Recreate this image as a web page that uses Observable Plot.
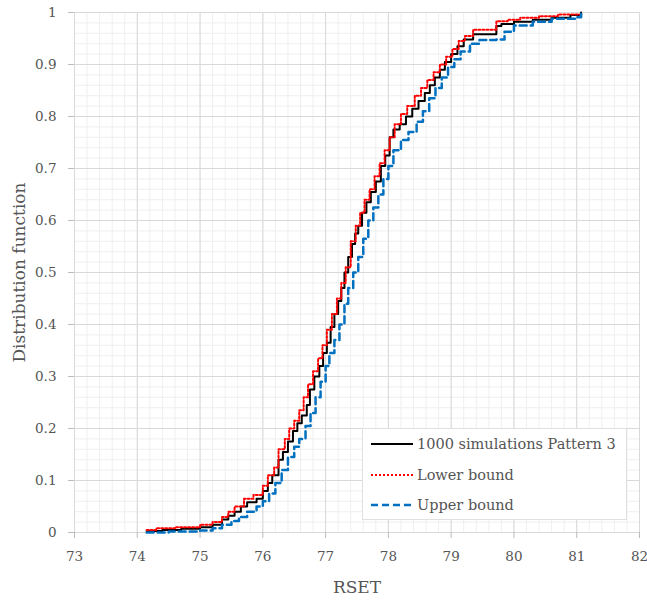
<!DOCTYPE html>
<html>
<head>
<meta charset="utf-8">
<script src="https://cdn.jsdelivr.net/npm/d3@7"></script>
<script src="https://cdn.jsdelivr.net/npm/@observablehq/plot@0.6"></script>
<style>
  html, body { margin: 0; padding: 0; background: #fff; }
  #wrap { position: relative; width: 647px; height: 604px; }
  #legend { position: absolute; left: 362px; top: 428px; width: 263px; height: 90px;
    background: #fff; border: 1px solid #e0e0e0; font-family: "DejaVu Serif", serif;
    font-size: 14.5px; color: #555; }
  .row { position: absolute; left: 8px; height: 20px; display: flex; align-items: center; }
  .row svg { margin-right: 4px; }
</style>
</head>
<body>
<div id="wrap"></div>
<script>
const xTicks = [73, 74, 75, 76, 77, 78, 79, 80, 81, 82];
const yTicks = [0, 0.1, 0.2, 0.3, 0.4, 0.5, 0.6, 0.7, 0.8, 0.9, 1];

const simX = [74.15, 74.4, 74.7, 75.0, 75.2, 75.35, 75.45, 75.55, 75.65, 75.75, 75.9, 76.0, 76.08, 76.15, 76.25, 76.32, 76.4, 76.48, 76.55, 76.62, 76.7, 76.75, 76.82, 76.9, 76.96, 77.02, 77.08, 77.14, 77.2, 77.25, 77.3, 77.36, 77.42, 77.47, 77.52, 77.58, 77.65, 77.72, 77.8, 77.88, 77.95, 78.02, 78.08, 78.18, 78.28, 78.38, 78.48, 78.58, 78.66, 78.74, 78.82, 78.9, 79.0, 79.1, 79.2, 79.35, 79.72, 79.8, 80.0, 80.3, 80.6, 80.9, 81.07];
const simY = [0.003, 0.005, 0.007, 0.01, 0.015, 0.025, 0.032, 0.04, 0.05, 0.058, 0.065, 0.08, 0.095, 0.11, 0.14, 0.155, 0.175, 0.195, 0.21, 0.225, 0.245, 0.275, 0.3, 0.32, 0.345, 0.365, 0.395, 0.42, 0.445, 0.47, 0.5, 0.53, 0.555, 0.575, 0.59, 0.615, 0.635, 0.655, 0.675, 0.705, 0.725, 0.76, 0.775, 0.785, 0.8, 0.815, 0.83, 0.845, 0.86, 0.875, 0.89, 0.905, 0.92, 0.935, 0.948, 0.958, 0.974, 0.978, 0.982, 0.986, 0.99, 0.995, 1.0];

const lowX = [74.15, 74.3, 74.6, 75.0, 75.2, 75.35, 75.45, 75.55, 75.7, 75.85, 76.0, 76.08, 76.18, 76.25, 76.35, 76.42, 76.5, 76.58, 76.65, 76.72, 76.8, 76.88, 76.95, 77.02, 77.1, 77.18, 77.25, 77.32, 77.4, 77.48, 77.55, 77.62, 77.7, 77.78, 77.86, 77.94, 78.02, 78.1, 78.2, 78.3, 78.42, 78.52, 78.62, 78.72, 78.82, 78.92, 79.02, 79.12, 79.22, 79.35, 79.72, 79.9, 80.1, 80.4, 80.7, 81.07];
const lowY = [0.005, 0.008, 0.01, 0.015, 0.02, 0.03, 0.04, 0.05, 0.065, 0.072, 0.09, 0.11, 0.125, 0.16, 0.18, 0.2, 0.215, 0.235, 0.26, 0.285, 0.31, 0.335, 0.36, 0.39, 0.42, 0.45, 0.48, 0.51, 0.56, 0.59, 0.615, 0.64, 0.66, 0.685, 0.71, 0.735, 0.76, 0.785, 0.805, 0.82, 0.84, 0.855, 0.87, 0.885, 0.9, 0.915, 0.93, 0.945, 0.955, 0.967, 0.983, 0.986, 0.99, 0.993, 0.996, 1.0];

const upX = [74.15, 74.5, 75.0, 75.2, 75.35, 75.5, 75.62, 75.75, 75.9, 76.0, 76.1, 76.2, 76.3, 76.4, 76.5, 76.58, 76.68, 76.76, 76.84, 76.92, 77.0, 77.06, 77.14, 77.22, 77.3, 77.36, 77.44, 77.52, 77.6, 77.68, 77.76, 77.84, 77.92, 78.0, 78.08, 78.2, 78.32, 78.45, 78.55, 78.65, 78.75, 78.85, 78.95, 79.05, 79.15, 79.3, 79.45, 79.72, 79.85, 80.0, 80.3, 80.6, 81.0, 81.07];
const upY = [0.0, 0.002, 0.004, 0.008, 0.015, 0.022, 0.03, 0.04, 0.05, 0.06, 0.075, 0.095, 0.12, 0.145, 0.165, 0.18, 0.205, 0.23, 0.26, 0.29, 0.32, 0.345, 0.37, 0.4, 0.44, 0.47, 0.5, 0.53, 0.565, 0.6, 0.625, 0.65, 0.68, 0.705, 0.735, 0.755, 0.77, 0.79, 0.81, 0.835, 0.855, 0.875, 0.895, 0.91, 0.925, 0.94, 0.947, 0.948, 0.963, 0.975, 0.982, 0.988, 0.991, 1.0];

const toPts = (xs, ys) => xs.map((x, i) => ({x, y: ys[i]}));
const sim = toPts(simX, simY), low = toPts(lowX, lowY), up = toPts(upX, upY);

const minorX = d3.range(73, 82.001, 0.2).map(v => +v.toFixed(2));
const minorY = d3.range(0, 1.0001, 0.02).map(v => +v.toFixed(3));
const fmtY = d => d === 0 ? "0" : d === 1 ? "1" : d.toFixed(1);

const font = "DejaVu Serif, serif";
const chart = Plot.plot({
  width: 647, height: 604,
  marginLeft: 74, marginRight: 8, marginTop: 12, marginBottom: 72,
  style: {fontFamily: font, fontSize: "13px", color: "#555", background: "#fff"},
  x: {domain: [73, 82]},
  y: {domain: [0, 1]},
  marks: [
    Plot.ruleX(minorX, {stroke: "#efefef", strokeWidth: 1}),
    Plot.ruleY(minorY, {stroke: "#efefef", strokeWidth: 1}),
    Plot.ruleX(xTicks, {stroke: "#d9d9d9", strokeWidth: 1}),
    Plot.ruleY(yTicks, {stroke: "#d9d9d9", strokeWidth: 1}),
    Plot.frame({stroke: "#d9d9d9"}),
    Plot.axisX({ticks: xTicks, tickFormat: d => String(d), tickSize: 6, tickPadding: 13,
      stroke: "#bbb", fontSize: 13.5, label: "RSET", labelAnchor: "center", labelArrow: "none", labelOffset: 60}),
    Plot.axisY({ticks: yTicks, tickFormat: fmtY, tickSize: 6, tickPadding: 12,
      stroke: "#bbb", fontSize: 13.5, label: "Distribution function", labelAnchor: "center", labelArrow: "none", labelOffset: 62}),
    Plot.line(sim, {x: "x", y: "y", curve: "step-after", stroke: "#000", strokeWidth: 2}),
    Plot.line(low, {x: "x", y: "y", curve: "step-after", stroke: "#ff0000", strokeWidth: 2, strokeDasharray: "2,2"}),
    Plot.line(up, {x: "x", y: "y", curve: "step-after", stroke: "#0070c0", strokeWidth: 2.5, strokeDasharray: "7,4"})
  ]
});
chart.querySelectorAll("[aria-label='x-axis label'] text, [aria-label='y-axis label'] text").forEach(t => t.style.fontSize = "17px");
document.getElementById("wrap").appendChild(chart);

const legendItems = [
  {label: "1000 simulations Pattern 3", stroke: "#000", dash: "", w: 2},
  {label: "Lower bound", stroke: "#ff0000", dash: "2,2", w: 2},
  {label: "Upper bound", stroke: "#0070c0", dash: "7,4", w: 2.5}
];
const lg = document.createElement("div");
lg.id = "legend";
legendItems.forEach((it, i) => {
  const r = document.createElement("div");
  r.className = "row";
  r.style.top = (5 + i * 30.5) + "px";
  r.innerHTML = `<svg width="42" height="10"><line x1="0" x2="42" y1="5" y2="5" stroke="${it.stroke}" stroke-width="${it.w}" stroke-dasharray="${it.dash}"/></svg><span>${it.label}</span>`;
  lg.appendChild(r);
});
document.getElementById("wrap").appendChild(lg);
</script>
</body>
</html>
